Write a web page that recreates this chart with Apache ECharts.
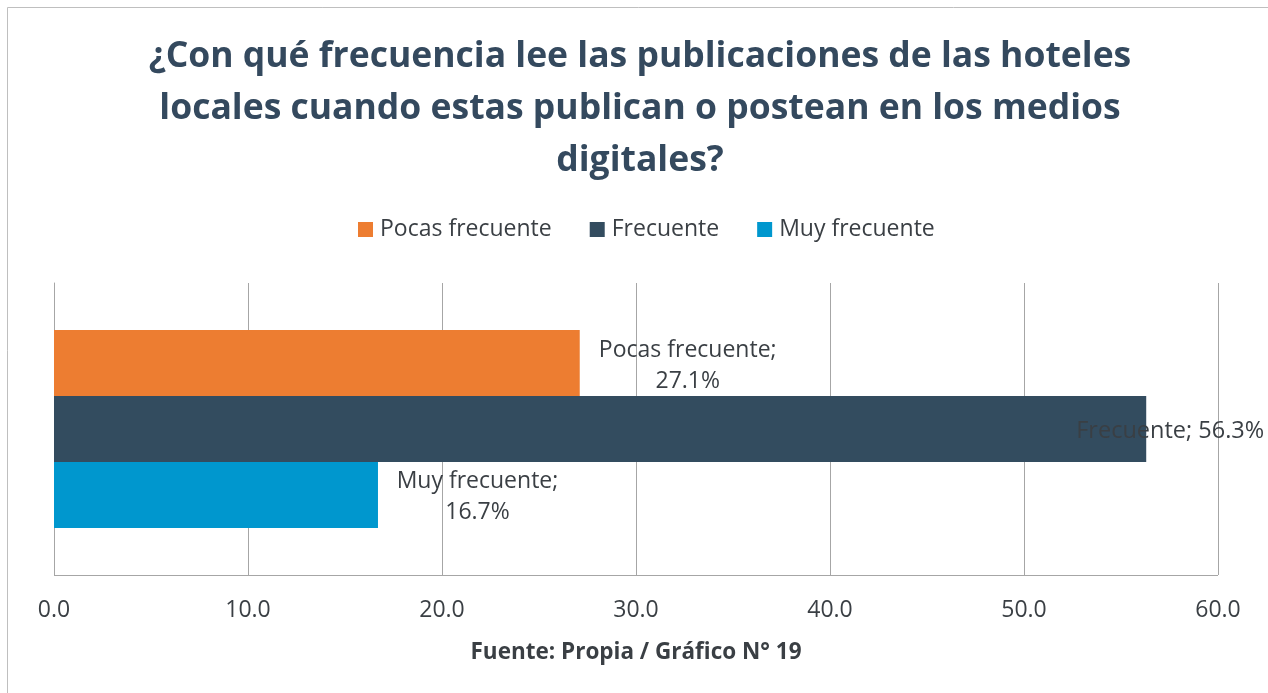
<!DOCTYPE html>
<html>
<head>
<meta charset="utf-8">
<script src="https://cdn.jsdelivr.net/npm/echarts@6/dist/echarts.min.js"></script>
<style>
  html, body { margin: 0; padding: 0; background: #fff; }
  #chart { width: 1268px; height: 693px; }
</style>
</head>
<body>
<div id="chart"></div>
<script>
// values
var categories = ['Frecuencia'];
var seriesNames = ['Pocas frecuente', 'Frecuente', 'Muy frecuente'];
var pocas = [27.1];
var frecuente = [56.3];
var muy = [16.7];

var colors = ['#ED7D31', '#334C5F', '#0097CE'];
var font = '"Open Sans", sans-serif';
var textColor = '#3A3F44';

function labelFor(name, boxWidth, dist, dy) {
    return {
        show: true,
        position: 'right',
        distance: dist,
        offset: [0, dy],
        color: textColor,
        fontFamily: font,
        fontSize: 23,
        formatter: function (p) {
            return '{t|' + name + ';}\n{t|' + p.value.toFixed(1) + '%}';
        },
        rich: {
            t: { width: boxWidth, align: 'center', fontSize: 23, lineHeight: 31, fontFamily: font, color: textColor }
        }
    };
}

var chart = echarts.init(document.getElementById('chart'));
chart.setOption({
    backgroundColor: '#fff',
    color: colors,
    title: {
        text: '¿Con qué frecuencia lee las publicaciones de las hoteles\nlocales cuando estas publican o postean en los medios\ndigitales?',
        left: 635,
        top: 26,
        textAlign: 'center',
        textStyle: {
            fontFamily: font,
            fontWeight: 'bold',
            fontSize: 35.5,
            lineHeight: 52,
            color: '#34495E'
        }
    },
    legend: {
        data: seriesNames,
        top: 213,
        left: 353,
        itemWidth: 15,
        itemHeight: 15,
        itemGap: 38,
        icon: 'rect',
        textStyle: { fontFamily: font, fontSize: 23, color: textColor, padding: [0, 0, 0, 2] }
    },
    grid: { left: 54, right: 50, top: 283, bottom: 118 },
    xAxis: {
        type: 'value',
        min: 0,
        max: 60,
        interval: 10,
        axisLine: { show: false },
        axisTick: { show: false },
        axisLabel: {
            fontFamily: font, fontSize: 23, color: textColor, margin: 24,
            formatter: function (v) { return v.toFixed(1); }
        },
        splitLine: { show: true, lineStyle: { color: '#A6A6A6', width: 1 } },
        name: 'Fuente: Propia / Gráfico N° 19',
        nameLocation: 'middle',
        nameGap: 66,
        nameTextStyle: { fontFamily: font, fontSize: 22.5, fontWeight: 'bold', color: textColor }
    },
    yAxis: {
        type: 'category',
        data: categories,
        inverse: true,
        axisLine: { show: true, lineStyle: { color: '#A6A6A6' } },
        axisTick: { show: false },
        axisLabel: { show: false }
    },
    series: [
        {
            name: seriesNames[0], type: 'bar', data: pocas,
            barWidth: 66, barGap: '0%',
            label: labelFor(seriesNames[0], 180, 18, 3)
        },
        {
            name: seriesNames[1], type: 'bar', data: frecuente,
            barWidth: 66, barGap: '0%',
            label: {
                show: true,
                position: 'right',
                distance: 0,
                offset: [-70, 2],
                color: textColor,
                fontFamily: font,
                fontSize: 23.5,
                formatter: function (p) { return seriesNames[1] + '; ' + p.value.toFixed(1) + '%'; }
            }
        },
        {
            name: seriesNames[2], type: 'bar', data: muy,
            barWidth: 66, barGap: '0%',
            label: labelFor(seriesNames[2], 167, 16, 2)
        }
    ],
    graphic: [
        {
            type: 'rect',
            shape: { x: 7.5, y: 7.5, width: 1300, height: 700 },
            style: { fill: null, stroke: '#BFBFBF', lineWidth: 1 },
            silent: true
        },
        {
            type: 'line',
            shape: { x1: 54, y1: 575.5, x2: 1218, y2: 575.5 },
            style: { stroke: '#A6A6A6', lineWidth: 1 },
            silent: true
        }
    ]
});
</script>
</body>
</html>
